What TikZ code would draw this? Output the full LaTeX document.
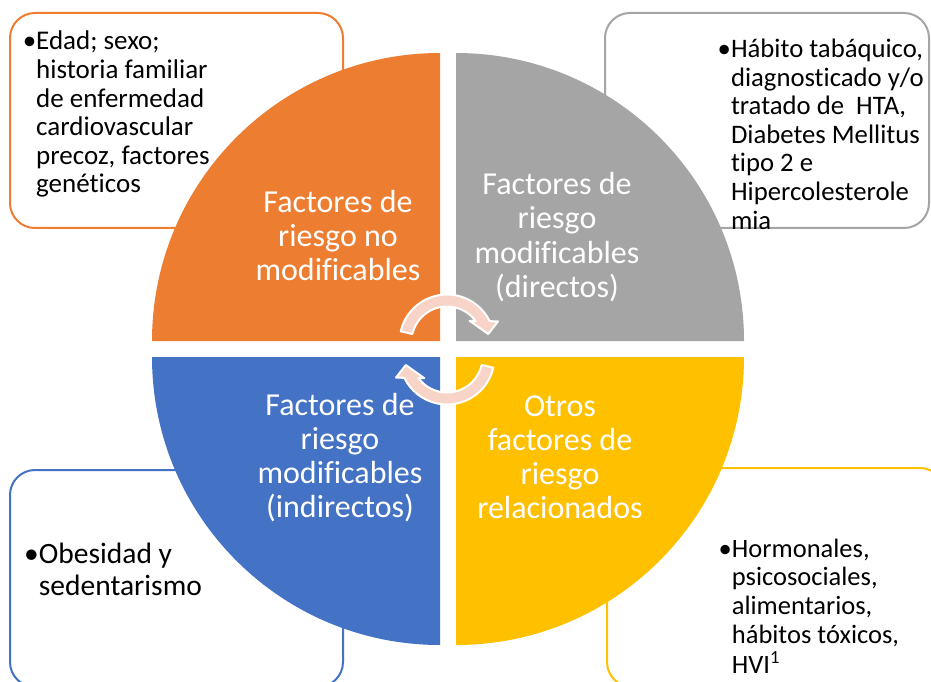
\documentclass[tikz,border=0pt]{standalone}
\usepackage{fontspec}
\setmainfont{Carlito}[Ligatures=NoCommon]
\usetikzlibrary{calc}
\definecolor{qorange}{HTML}{ED7D31}
\definecolor{qgrey}{HTML}{A5A5A5}
\definecolor{qblue}{HTML}{4472C4}
\definecolor{qyellow}{HTML}{FFC000}
\definecolor{arrowpink}{RGB}{248,212,200}
\newcommand{\bul}{•\hspace{2pt}}
\begin{document}
\begin{tikzpicture}[x=1pt,y=1pt,
  box/.style={rounded corners=25pt, line width=2pt, fill=white},
  qtext/.style={text=white, align=center, anchor=base, inner sep=0pt,
    font=\fontsize{32}{34}\selectfont},
  btext/.style={anchor=base west, inner sep=0pt, text=black,
    font=\fontsize{27}{28.6}\selectfont},
  cyc/.style={fill=arrowpink, draw=white, line width=2pt, line join=round}]
\clip (0,0) rectangle (931,681);
\fill[white] (0,0) rectangle (931,681);
% side boxes
\draw[box, draw=qorange] (10,453) rectangle (343,668);
\draw[box, draw=qgrey] (605,453) rectangle (929,668);
\draw[box, draw=qblue] (10,-6) rectangle (343,211);
\draw[box, draw=qyellow] (607,-6) rectangle (945,213);
% quadrants
\fill[qorange] (440,340) -- (440,628) arc[start angle=90, end angle=180, radius=288] -- cycle;
\fill[qgrey] (456,340) -- (456,628) arc[start angle=90, end angle=0, radius=288] -- cycle;
\fill[qblue] (440,324) -- (152,324) arc[start angle=180, end angle=270, radius=288] -- cycle;
\fill[qyellow] (456,324) -- (744,324) arc[start angle=0, end angle=-90, radius=288] -- cycle;
% cycle arrows
\coordinate (c1) at (447,339);
\draw[cyc] ($(c1)+(167:47.5)$) arc[start angle=167, end angle=26, radius=47.5]
  -- ($(c1)+(22:55)$) -- ($(c1)+(11:42)$) -- ($(c1)+(43:31)$)
  -- ($(c1)+(36:35.5)$) arc[start angle=36, end angle=167, radius=35.5] -- cycle;
\begin{scope}[rotate around={180:(447,331.5)}]
\coordinate (c2) at (447,339);
\draw[cyc] ($(c2)+(167:47.5)$) arc[start angle=167, end angle=26, radius=47.5]
  -- ($(c2)+(22:55)$) -- ($(c2)+(11:42)$) -- ($(c2)+(43:31)$)
  -- ($(c2)+(36:35.5)$) arc[start angle=36, end angle=167, radius=35.5] -- cycle;
\end{scope}
% quadrant texts (anchor = baseline of last line)
\node[qtext] (q1) at (338,400) {Factores de\\riesgo no\\modificables};
\node[qtext] (q2) at (557,384) {Factores de\\riesgo\\modificables\\(directos)};
\node[qtext] (q3) at (340,164) {Factores de\\riesgo\\modificables\\(indirectos)};
\node[qtext] (q4) at (560,163) {Otros\\factores de\\riesgo\\relacionados};
% box texts
\node[btext] (t1) at (22.6,631) {\begin{tabular}[t]{@{}l@{}l@{}}\bul&Edad; sexo;\\&historia familiar\\&de enfermedad\\&cardiovascular\\&precoz, factores\\&genéticos\end{tabular}};
\node[btext, font=\fontsize{26.7}{28.6}\selectfont] (t2) at (717.5,623.5) {\begin{tabular}[t]{@{}l@{}l@{}}\bul&Hábito tabáquico,\\&diagnosticado y/o\\&tratado de~ HTA,\\&Diabetes Mellitus\\&tipo 2 e\\&Hipercolesterole\\&mia\end{tabular}};
\node[btext, font=\fontsize{29.5}{32.5}\selectfont] (t3) at (24,118) {\begin{tabular}[t]{@{}l@{}l@{}}\bul&Obesidad y\\&sedentarismo\end{tabular}};
\node[btext, font=\fontsize{26.5}{28.8}\selectfont] (t4) at (718.5,124) {\begin{tabular}[t]{@{}l@{}l@{}}\bul&Hormonales,\\&psicosociales,\\&alimentarios,\\&hábitos tóxicos,\\&HVI\textsuperscript{1}\end{tabular}};
\end{tikzpicture}
\end{document}
